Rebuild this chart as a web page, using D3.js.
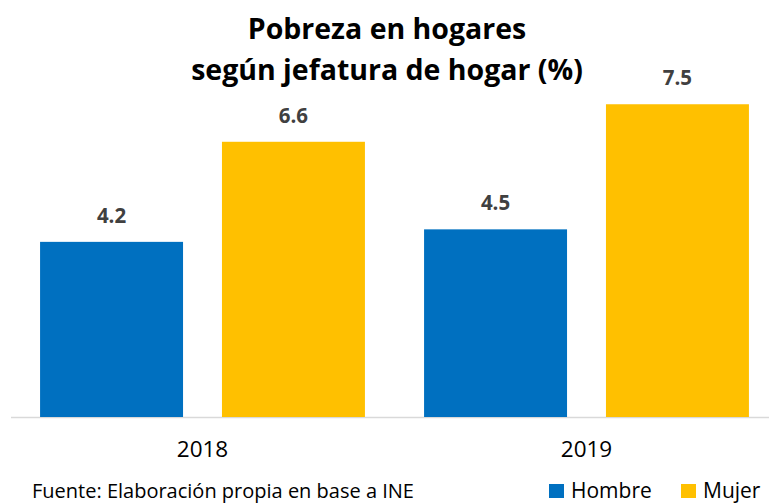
<!DOCTYPE html>
<html>
<head>
<meta charset="utf-8">
<script src="https://cdn.jsdelivr.net/npm/d3@7"></script>
<style>
  body { margin: 0; background: #fff; }
  text { font-family: "Open Sans", sans-serif; }
</style>
</head>
<body>
<script>
const years = ['2018', '2019']
const series = ['Hombre', 'Mujer']
const hombre = [4.2, 4.5]
const mujer = [6.6, 7.5]
const colors = ['#0070C0', '#FFC000']

const width = 769
const height = 504

const data = years.map((y, i) => ({ year: y, values: [hombre[i], mujer[i]] }))

const svg = d3.select('body')
  .append('svg')
  .attr('width', width)
  .attr('height', height)

const x0 = d3.scaleBand()
  .domain(years)
  .range([10.5, 778.5])
  .paddingInner(0.154)
  .paddingOuter(0.077)

const x1 = d3.scaleBand()
  .domain(series)
  .range([0, x0.bandwidth()])
  .paddingInner(0.214)

const y = d3.scaleLinear()
  .domain([0, 8])
  .range([417, 83.4])

// baseline
svg.append('line')
  .attr('x1', 11).attr('x2', width)
  .attr('y1', y(0) + 0.5).attr('y2', y(0) + 0.5)
  .attr('stroke', '#d9d9d9')
  .attr('stroke-width', 1.5)

const groups = svg.selectAll('g.year')
  .data(data)
  .enter()
  .append('g')
  .attr('class', 'year')
  .attr('transform', d => `translate(${x0(d.year)},0)`)

groups.selectAll('rect')
  .data(d => d.values.map((v, i) => ({ key: series[i], v, c: colors[i] })))
  .enter()
  .append('rect')
  .attr('x', d => x1(d.key))
  .attr('y', d => y(d.v))
  .attr('width', x1.bandwidth())
  .attr('height', d => y(0) - y(d.v))
  .attr('fill', d => d.c)

groups.selectAll('text.val')
  .data(d => d.values.map((v, i) => ({ key: series[i], v })))
  .enter()
  .append('text')
  .attr('class', 'val')
  .attr('x', d => x1(d.key) + x1.bandwidth() / 2)
  .attr('y', d => y(d.v) - 19)
  .attr('text-anchor', 'middle')
  .attr('font-size', 20.5)
  .attr('font-weight', 'bold')
  .attr('fill', '#404040')
  .text(d => d.v.toFixed(1))

// category labels
svg.selectAll('text.cat')
  .data(years)
  .enter()
  .append('text')
  .attr('class', 'cat')
  .attr('x', d => x0(d) + x0.bandwidth() / 2)
  .attr('y', 457)
  .attr('text-anchor', 'middle')
  .attr('font-size', 22.5)
  .attr('fill', '#000')
  .text(d => d)

// title
const title = svg.append('text')
  .attr('text-anchor', 'middle')
  .attr('font-size', 28.5)
  .attr('font-weight', 'bold')
  .attr('fill', '#000')
title.append('tspan').attr('x', 387).attr('y', 39).text('Pobreza en hogares')
title.append('tspan').attr('x', 387).attr('y', 80).text('según jefatura de hogar (%)')

// source
svg.append('text')
  .attr('x', 32)
  .attr('y', 498)
  .attr('font-size', 20)
  .attr('fill', '#000')
  .text('Fuente: Elaboración propia en base a INE')

// legend
const legendX = [549, 681]
const legend = svg.selectAll('g.legend')
  .data(series)
  .enter()
  .append('g')
  .attr('class', 'legend')
  .attr('transform', (d, i) => `translate(${legendX[i]},0)`)

legend.append('rect')
  .attr('x', 0).attr('y', 484)
  .attr('width', 15).attr('height', 14)
  .attr('fill', (d, i) => colors[i])

legend.append('text')
  .attr('x', 22)
  .attr('y', 498)
  .attr('font-size', 21)
  .attr('fill', '#000')
  .text(d => d)
</script>
</body>
</html>
